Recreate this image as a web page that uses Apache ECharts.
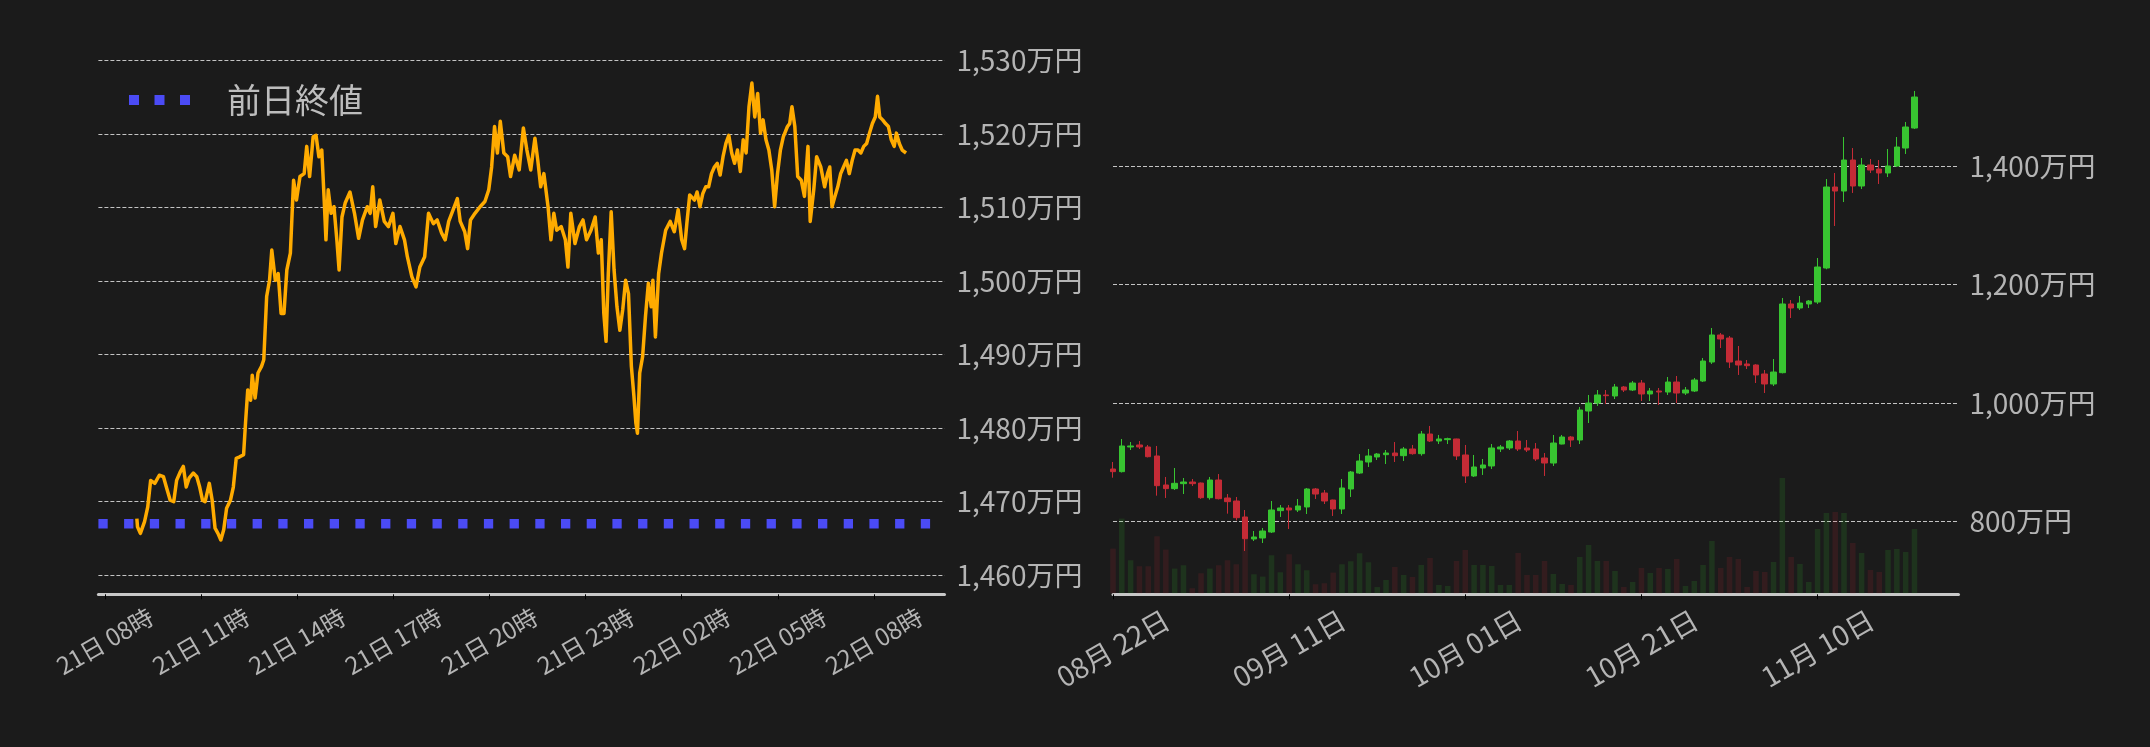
<!DOCTYPE html>
<html><head><meta charset="utf-8">
<script src="https://cdn.jsdelivr.net/npm/echarts@6/dist/echarts.min.js"></script>
<style>html,body{margin:0;padding:0;background:#1b1b1b;}#c{width:2150px;height:747px;}</style>
</head><body><div id="c"></div>
<script>
// ---------- Left chart: intraday (hours from 21日 00:00) ----------
const lineHours = [9.00,9.02,9.11,9.24,9.34,9.43,9.56,9.70,9.83,9.92,10.04,10.15,10.24,10.36,10.45,10.54,10.63,10.76,10.87,10.96,11.05,11.13,11.26,11.35,11.44,11.53,11.62,11.71,11.80,11.92,12.01,12.10,12.21,12.33,12.39,12.46,12.55,12.60,12.69,12.78,12.89,12.96,13.05,13.14,13.21,13.32,13.41,13.50,13.59,13.68,13.79,13.89,13.98,14.09,14.22,14.30,14.39,14.50,14.59,14.68,14.77,14.84,14.90,14.97,15.06,15.15,15.24,15.31,15.40,15.50,15.65,15.79,15.92,16.04,16.19,16.28,16.36,16.45,16.58,16.72,16.85,16.99,17.08,17.21,17.35,17.44,17.58,17.71,17.83,17.98,18.10,18.25,18.37,18.51,18.62,18.73,18.87,19.00,19.09,19.23,19.32,19.41,19.55,19.71,19.86,19.98,20.07,20.16,20.25,20.34,20.45,20.57,20.66,20.79,20.93,21.06,21.17,21.29,21.42,21.51,21.60,21.70,21.83,21.92,22.01,22.10,22.24,22.37,22.45,22.54,22.67,22.81,22.92,23.03,23.17,23.30,23.40,23.49,23.57,23.64,23.71,23.80,23.89,23.98,24.07,24.16,24.25,24.34,24.43,24.51,24.57,24.62,24.69,24.78,24.87,24.96,25.05,25.10,25.18,25.28,25.37,25.50,25.64,25.77,25.89,26.00,26.09,26.16,26.25,26.40,26.48,26.57,26.66,26.75,26.84,26.93,27.02,27.11,27.20,27.29,27.38,27.47,27.56,27.65,27.74,27.83,27.92,28.01,28.10,28.19,28.28,28.37,28.46,28.54,28.63,28.72,28.81,28.90,28.99,29.08,29.17,29.30,29.37,29.44,29.53,29.62,29.73,29.83,29.94,30.01,30.12,30.21,30.34,30.46,30.55,30.62,30.69,30.78,30.87,30.96,31.05,31.14,31.23,31.32,31.41,31.50,31.59,31.68,31.77,31.86,31.95,32.04,32.11,32.18,32.27,32.36,32.45,32.54,32.63,32.70,32.79,32.88,33.00];
const linePrices = [1467.7,1466.6,1465.7,1467.3,1469.3,1472.9,1472.5,1473.6,1473.4,1472.0,1470.2,1470.0,1472.9,1474.1,1474.8,1472.0,1473.2,1473.9,1473.4,1472.0,1470.2,1470.0,1472.5,1470.2,1466.4,1465.7,1464.8,1466.2,1469.1,1470.2,1472.0,1475.9,1476.1,1476.4,1480.7,1485.2,1483.8,1487.2,1484.1,1487.5,1488.4,1489.3,1497.9,1500.1,1504.2,1500.1,1501.0,1495.6,1495.6,1501.5,1503.8,1513.7,1511.0,1514.2,1514.6,1518.3,1514.2,1519.6,1519.8,1516.9,1517.8,1511.5,1505.6,1512.4,1509.2,1510.1,1505.6,1501.5,1508.7,1510.6,1512.1,1509.2,1505.8,1508.3,1510.1,1509.2,1512.8,1507.4,1511.0,1508.1,1507.4,1509.2,1505.1,1507.4,1505.6,1503.3,1500.6,1499.2,1501.9,1503.3,1509.2,1507.8,1508.3,1506.5,1505.6,1508.1,1509.7,1511.2,1508.1,1506.7,1504.4,1508.3,1509.2,1510.1,1510.8,1512.4,1515.5,1521.0,1517.4,1521.7,1517.4,1516.9,1514.2,1517.1,1515.1,1520.8,1517.8,1515.1,1519.4,1516.4,1512.8,1514.6,1510.1,1505.6,1509.2,1506.9,1507.4,1505.6,1501.9,1509.2,1505.1,1507.4,1508.3,1505.6,1506.9,1508.7,1503.8,1505.6,1495.6,1491.8,1501.0,1509.4,1501.5,1496.5,1493.3,1496.1,1500.1,1498.3,1488.4,1484.3,1480.7,1479.3,1487.5,1489.7,1495.2,1499.7,1496.5,1500.1,1492.4,1501.0,1503.8,1506.9,1508.1,1506.7,1509.7,1505.6,1504.4,1507.8,1511.7,1511.0,1512.1,1510.1,1511.9,1512.8,1512.8,1514.6,1515.5,1516.0,1514.4,1516.9,1518.7,1519.8,1517.4,1516.0,1517.8,1514.9,1519.2,1517.4,1523.7,1526.9,1522.3,1525.5,1520.1,1521.9,1519.2,1517.8,1515.1,1510.1,1514.6,1517.8,1519.6,1521.0,1521.4,1523.7,1521.0,1514.2,1513.7,1511.5,1518.3,1508.1,1512.4,1516.9,1515.5,1512.8,1514.6,1515.5,1510.1,1511.5,1512.8,1514.6,1515.5,1516.4,1514.6,1516.4,1517.8,1517.8,1517.4,1518.3,1518.7,1520.1,1521.4,1522.3,1525.1,1522.3,1521.9,1521.4,1521.0,1519.2,1518.3,1520.1,1518.7,1517.8,1517.4];
const prevClose = 1467.0;
const xTickHours = [8, 11, 14, 17, 20, 23, 26, 29, 32];
const xTickLabels = ['21日 08時','21日 11時','21日 14時','21日 17時','21日 20時','21日 23時','22日 02時','22日 05時','22日 08時'];
const leftYMin = 1460, leftYMax = 1530, leftYStep = 10;
const xHourMin = 7.8, xHourMax = 34.2;

// ---------- Right chart: daily candles (from 2024-08-22) ----------
const startDate = '2024-08-22';
const nDays = 97;
const opens  = [888.4,883.9,925.6,929.0,925.6,910.4,861.4,855.2,863.6,866.4,864.7,839.9,869.8,839.4,834.3,807.3,770.1,771.8,781.9,818.0,822.5,819.1,824.2,854.6,847.8,836.0,820.8,854.6,881.6,900.2,908.7,912.6,915.4,910.9,922.2,914.3,947.5,935.7,938.0,939.1,912.1,876.6,890.1,893.5,922.2,923.9,935.7,923.9,922.2,907.0,898.5,930.6,942.5,937.4,986.4,999.9,1013.5,1011.8,1027.0,1021.9,1033.7,1015.2,1020.2,1018.5,1035.4,1016.8,1020.2,1037.1,1069.2,1114.9,1109.8,1070.9,1065.9,1064.2,1049.0,1032.1,1051.2,1167.3,1160.5,1167.3,1170.6,1228.1,1365.0,1358.2,1410.6,1366.7,1402.2,1395.4,1388.7,1400.5,1430.9,1464.7];
const closes = [883.9,927.3,927.3,925.6,909.2,860.2,855.2,864.2,866.4,863.6,839.9,869.8,838.2,833.2,806.1,770.6,773.5,783.6,819.1,822.5,819.1,825.9,854.6,846.1,834.3,820.8,856.3,883.3,901.9,910.4,913.7,915.4,910.9,922.2,914.3,947.5,935.7,939.1,939.7,910.4,876.6,891.8,895.2,923.9,925.6,935.7,922.2,920.5,905.3,898.5,932.3,942.5,937.4,988.1,999.9,1013.5,1012.3,1027.0,1021.9,1033.7,1015.2,1020.2,1018.5,1035.4,1016.8,1021.9,1038.8,1070.9,1114.9,1108.1,1069.2,1064.2,1063.0,1047.3,1032.1,1052.3,1167.3,1160.5,1168.9,1172.3,1229.8,1365.0,1358.2,1410.6,1366.7,1402.2,1393.7,1388.7,1400.5,1432.6,1466.4,1517.1];
const lows   = [873.7,882.5,920.5,922.2,908.0,843.3,839.4,852.9,846.1,859.7,838.0,836.6,837.0,812.9,801.6,749.8,766.7,763.3,780.2,807.3,787.0,815.7,812.3,837.7,829.2,809.0,812.3,841.1,879.9,891.8,903.6,896.8,900.2,901.9,912.6,910.9,934.0,930.6,930.6,903.6,864.7,874.9,878.3,888.4,917.1,920.5,918.8,917.1,901.9,876.6,893.5,930.0,925.6,930.6,966.1,994.9,998.2,1006.7,1018.5,1020.2,1003.3,1003.3,996.6,1013.5,999.9,1013.5,1018.5,1035.4,1065.9,1092.9,1059.1,1047.3,1057.4,1033.7,1016.8,1028.7,1050.0,1143.6,1157.1,1160.5,1167.3,1226.0,1299.1,1339.6,1354.9,1361.6,1388.7,1370.1,1381.9,1399.0,1420.8,1463.0];
const highs  = [900.2,939.1,934.0,935.7,929.0,927.3,874.9,890.1,873.2,871.5,865.5,874.9,879.9,846.1,841.1,819.1,783.6,788.7,834.3,827.5,827.5,837.7,856.3,856.3,852.9,836.5,871.5,885.0,913.7,922.2,915.4,920.5,934.0,925.6,929.0,952.6,961.1,945.9,941.3,939.6,929.0,912.1,905.3,930.6,929.0,937.4,952.6,937.4,932.3,915.4,945.9,945.9,944.2,993.2,1013.5,1021.9,1021.9,1032.1,1028.7,1037.1,1038.8,1025.3,1025.3,1043.9,1045.6,1027.0,1042.2,1076.0,1126.7,1118.2,1113.2,1096.3,1072.6,1065.5,1055.7,1074.3,1177.4,1174.0,1180.8,1174.0,1245.0,1378.5,1388.7,1449.5,1430.9,1414.0,1412.3,1410.6,1429.2,1449.5,1474.9,1527.3];
const volumes = [447,747,330,270,270,570,437,247,280,50,200,247,280,330,290,547,190,167,380,210,390,290,230,90,100,207,290,320,400,310,62,133,263,183,163,283,353,83,73,323,433,283,283,273,83,83,403,183,183,323,193,93,83,363,483,323,323,223,63,113,253,203,253,243,343,73,123,283,523,253,363,343,63,223,213,313,1153,363,293,113,643,803,813,803,503,403,233,213,433,443,413,643];
const rightYMin = 800, rightYMax = 1400, rightYStep = 200;
const volAxisMax = 5333;
const dateLabelStep = 20;

// ---------- build ----------
const FONT = 'Noto Sans CJK JP';
const TXT = '#b4b4b4';
const GRIDLINE = { color: '#c4c4c4', width: 1, type: [4, 2] };
const UP = '#38c431', DOWN = '#c42b36';

const dates = [];
{
  const d0 = new Date(startDate + 'T00:00:00Z');
  for (let i = 0; i < nDays; i++) {
    const d = new Date(d0.getTime() + i * 86400000);
    const mm = String(d.getUTCMonth() + 1).padStart(2, '0');
    const dd = String(d.getUTCDate()).padStart(2, '0');
    dates.push(mm + '月 ' + dd + '日');
  }
}
const lineData = lineHours.map((h, i) => [h, linePrices[i]]);
const candleData = opens.map((o, i) => [o, closes[i], lows[i], highs[i]]);
const volData = volumes.map((v, i) => ({
  value: v,
  itemStyle: { color: closes[i] >= opens[i] ? 'rgba(56,196,49,0.15)' : 'rgba(196,43,54,0.15)' }
}));
const fmtYen = v => Number(v).toLocaleString('en-US') + '万円';

const chart = echarts.init(document.getElementById('c'), null, { renderer: 'canvas' });
chart.setOption({
  backgroundColor: '#1b1b1b',
  animation: false,
  textStyle: { fontFamily: FONT },
  legend: {
    data: ['前日終値'],
    left: 129, top: 80, padding: 0,
    icon: 'path://M0 0H10V10H0Z M25.5 0H35.5V10H25.5Z M51 0H61V10H51Z',
    itemWidth: 61, itemHeight: 10,
    textStyle: { color: '#bdbdbd', fontSize: 34, fontFamily: FONT, lineHeight: 40, padding: [0, 0, 0, 32] }
  },
  grid: [
    { left: 98.4, right: 1205.5, top: 60.3, bottom: 171.7 },
    { left: 1113, right: 191.5, top: 166.3, bottom: 225.7 },
    { left: 1113, right: 191.5, top: 60, bottom: 153.7 }
  ],
  xAxis: [
    {
      type: 'value', gridIndex: 0, min: xHourMin, max: xHourMax, offset: 19,
      axisLine: { show: true, lineStyle: { color: '#c8c8c8', width: 3 } },
      axisTick: { show: true, customValues: xTickHours, length: 5, lineStyle: { color: '#000', width: 1 } },
      axisLabel: {
        customValues: xTickHours, rotate: 30, align: 'center', verticalAlign: 'middle', margin: 47,
        color: TXT, fontSize: 24, fontFamily: FONT,
        formatter: v => { const i = xTickHours.indexOf(Math.round(v)); return i >= 0 ? xTickLabels[i] : ''; }
      },
      splitLine: { show: false }
    },
    {
      type: 'category', gridIndex: 1, data: dates, boundaryGap: false, offset: 73,
      axisLine: { show: true, lineStyle: { color: '#c8c8c8', width: 3 } },
      axisTick: { show: true, interval: i => i % dateLabelStep === 0, length: 5, lineStyle: { color: '#000', width: 1 } },
      axisLabel: {
        interval: i => i % dateLabelStep === 0, rotate: 30, align: 'center', verticalAlign: 'middle', margin: 54,
        color: TXT, fontSize: 28, fontFamily: FONT
      },
      splitLine: { show: false }
    },
    {
      type: 'category', gridIndex: 2, data: dates, boundaryGap: false, show: false
    }
  ],
  yAxis: [
    {
      type: 'value', gridIndex: 0, position: 'right', min: leftYMin, max: leftYMax, interval: leftYStep,
      axisLine: { show: false }, axisTick: { show: false },
      axisLabel: { color: TXT, fontSize: 28, fontFamily: FONT, margin: 12, formatter: fmtYen },
      splitLine: { show: true, lineStyle: GRIDLINE }
    },
    {
      type: 'value', gridIndex: 1, position: 'right', min: rightYMin, max: rightYMax, interval: rightYStep,
      axisLine: { show: false }, axisTick: { show: false },
      axisLabel: { color: TXT, fontSize: 28, fontFamily: FONT, margin: 11, formatter: fmtYen },
      splitLine: { show: true, lineStyle: GRIDLINE }
    },
    {
      type: 'value', gridIndex: 2, min: 0, max: volAxisMax, show: false, splitLine: { show: false }
    }
  ],
  series: [
    {
      name: '前日終値', type: 'line', xAxisIndex: 0, yAxisIndex: 0,
      data: [[xHourMin, prevClose], [xHourMax, prevClose]],
      showSymbol: false, symbol: 'none', z: 2,
      lineStyle: { color: '#4b4bf5', width: 9.5, type: [9.3, 16.4], cap: 'butt' },
      itemStyle: { color: '#4b4bf5' }
    },
    {
      name: '価格', type: 'line', xAxisIndex: 0, yAxisIndex: 0, data: lineData,
      showSymbol: false, symbol: 'none', z: 3,
      lineStyle: { color: '#ffab00', width: 3.5, join: 'round' }
    },
    {
      name: '出来高', type: 'bar', xAxisIndex: 2, yAxisIndex: 2, data: volData,
      barWidth: 5.5, z: 1
    },
    {
      name: 'ローソク足', type: 'candlestick', xAxisIndex: 1, yAxisIndex: 1, data: candleData,
      barWidth: 6, clip: false, z: 3,
      itemStyle: { color: UP, color0: DOWN, borderColor: UP, borderColor0: DOWN, borderWidth: 1 }
    }
  ]
});
</script></body></html>
